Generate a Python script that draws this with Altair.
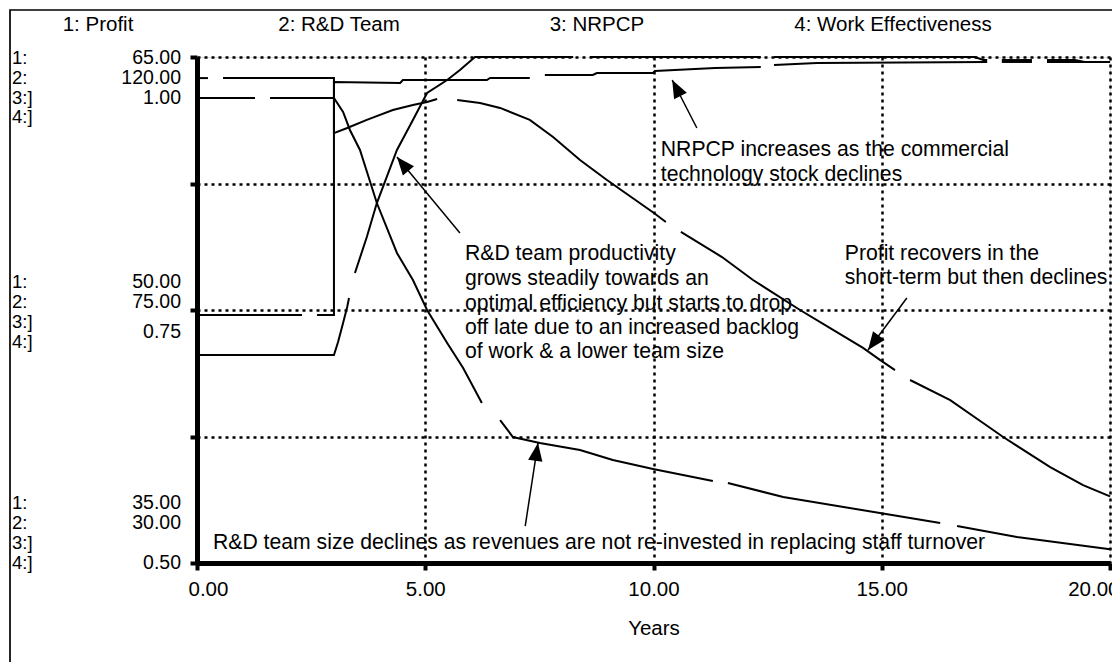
import math
import altair as alt
import pandas as pd

# ---------------- data ----------------
series_names = ["1: Profit", "2: R&D Team", "3: NRPCP", "4: Work Effectiveness"]
years_ticks = [0, 5, 10, 15, 20]

# None marks a break in the drawn line (where the simulator left a gap)
profit_t = [0, 0.24, None, 0.57, 3.0, 3.0, 3.29, 3.72, 4.29, 4.73, 5.04, 5.26, None, 5.70, 6.20, 6.64, 7.29,
            7.80, 8.39, 8.98, 10.01, 10.27, None, 10.60, 11.50, 12.18, 13.21, 13.87, 14.59, 14.96, 15.29,
            None, 15.62, 16.50, 17.22, 17.66, 18.69, 19.41, 20.0]
profit_v = [63.75, 63.75, None, 63.75, 63.75, 60.49, 60.79, 61.27, 61.86, 62.15, 62.33, 62.51, None, 62.45,
            62.27, 61.98, 61.27, 60.26, 58.89, 57.71, 55.75, 55.22, None, 54.63, 53.14, 51.78, 50.0, 48.93,
            47.75, 47.04, 46.44, None, 45.85, 44.66, 43.30, 42.47, 40.69, 39.62, 38.95]

team_t = [0, 1.27, None, 1.60, 3.0, 3.20, 3.35, 3.57, 3.94, 4.38, 4.73, 5.04, 5.48, 5.83, 6.24, None, 6.64,
          6.92, 7.51, 8.39, 9.11, 9.99, 11.30, None, 11.63, 12.84, 14.96, 16.28, None, 16.65, 17.96, 20.0]
team_v = [112.71, 112.71, None, 112.71, 112.71, 110.22, 107.02, 103.46, 94.03, 85.14, 80.34, 75.0, 69.13,
          64.68, 58.46, None, 55.43, 52.41, 51.34, 50.10, 48.32, 46.72, 44.58, None, 44.23, 41.74, 38.89,
          37.11, None, 36.58, 34.62, 32.45]

nrpcp_t = [0, 2.30, None, 2.63, 3.0, 3.0, 4.45, 4.51, 6.35, 6.42, 7.29, None, 7.62, 8.67, 8.76, 9.99, 10.03,
           11.35, 12.35, None, 12.64, 13.58, 17.31, None, 17.63, 18.29, None, 18.62, 20.0]
nrpcp_v = [0.7451, 0.7451, None, 0.7451, 0.7451, 0.9753, 0.9743, 0.9773, 0.9773, 0.9793, 0.9793, None,
           0.9822, 0.9822, 0.9842, 0.9842, 0.9862, 0.9891, 0.9901, None, 0.9921, 0.9941, 0.9951, None,
           0.9951, 0.9951, None, 0.9951, 0.9951]

work_t = [0, 3.0, 3.09, 3.20, 3.29, 3.33, None, 3.46, 3.72, 3.94, 4.38, 4.73, 5.04, 5.48, 5.76, 6.09, 8.24,
          None, 8.61, 12.35, None, 12.64, 17.04, 17.22, 17.31, None, 17.63, 18.29, None, 18.62, 19.23,
          19.45, 20.0]
work_v = [0.7055, 0.7055, 0.7184, 0.7372, 0.7530, 0.7619, None, 0.7866, 0.8221, 0.8557, 0.9081, 0.9377,
          0.9644, 0.9773, 0.9872, 1.0, 1.0, None, 1.0, 1.0, None, 1.0, 1.0, 0.997, 0.997, None, 0.997,
          0.997, None, 0.997, 0.997, 0.9951, 0.9951]

profit_domain = [35, 65]
team_domain = [30, 120]
ratio_domain = [0.5, 1.0]

scale_top = ["65.00", "120.00", "1.00"]
scale_mid = ["50.00", "75.00", "0.75"]
scale_bot = ["35.00", "30.00", "0.50"]
series_tags = ["1:", "2:", "3:]", "4:]"]

# annotations: year, fraction of the plot height, text
note_t = [10.16, 10.16, 5.87, 5.87, 5.87, 5.87, 5.87, 14.19, 14.19, 0.35]
note_f = [0.8162, 0.7668, 0.6107, 0.5613, 0.5119, 0.4644, 0.4170, 0.6107, 0.5632, 0.0395]
note_txt = ["NRPCP increases as the commercial", "technology stock declines",
            "R&D team productivity", "grows steadily towards an", "optimal efficiency but starts to drop",
            "off late due to an increased backlog", "of work & a lower team size",
            "Profit recovers in the", "short-term but then declines",
            "R&D team size declines as revenues are not re-invested in replacing staff turnover"]

# arrows: tail -> tip (year, fraction)
arrow_t0 = [10.95, 5.76, 15.55, 7.19]
arrow_f0 = [0.8597, 0.6522, 0.5237, 0.0731]
arrow_t1 = [10.41, 4.38, 14.70, 7.47]
arrow_f1 = [0.9545, 0.8024, 0.4209, 0.2372]

# ---------------- layout constants ----------------
W, H = 913, 506
LEFT, TOP = 197, 57
FONT = "Liberation Sans"
FS = 20.5
FS_SIDE = 18.5
FS_NOTE = 21.2
header_x = [98, 339, 597, 893]
tag_x = 12
value_x = 181
top_rows = [58, 78, 98, 117]
mid_rows = [282, 302, 322, 342]
bot_rows = [503, 523, 543, 563]
top_val_rows = [58, 78, 98]
mid_val_rows = [282, 302, 332]
bot_val_rows = [503, 523, 563]


def seg_frame(ts, vs):
    rows, seg, k = [], 0, 0
    for t, v in zip(ts, vs):
        if v is None:
            seg += 1
            continue
        rows.append({"t": t, "v": v, "seg": seg, "k": k})
        k += 1
    return pd.DataFrame(rows)


X_SCALE = alt.Scale(domain=[0, 20], nice=False, zero=False)
X_AXIS = alt.Axis(values=years_ticks, format=".2f", title="Years", grid=True, gridDash=[3, 4],
                  gridWidth=2.5, gridColor="black", gridOpacity=1, domainColor="black", domainWidth=5,
                  tickColor="black", tickWidth=4, tickSize=7, labelFont=FONT, labelFontSize=FS,
                  labelColor="black", labelPadding=9, labelFlush=True, labelFlushOffset=9,
                  labelOverlap=False,
                  titleFont=FONT, titleFontSize=FS, titleFontWeight="normal", titleColor="black",
                  titlePadding=19)


def x_enc(field):
    return alt.X(field, type="quantitative", scale=X_SCALE, axis=X_AXIS)


def line_layer(ts, vs, domain):
    return alt.Chart(seg_frame(ts, vs)).mark_line(color="black", strokeWidth=2).encode(
        x=x_enc("t"),
        y=alt.Y("v:Q", scale=alt.Scale(domain=domain, nice=False, zero=False), axis=None),
        detail="seg:N",
        order="k:Q",
    )


FRAC = alt.Scale(domain=[0, 1], nice=False, zero=False)

notes_df = pd.DataFrame({"t": note_t, "f": note_f, "txt": note_txt})
notes = alt.Chart(notes_df).mark_text(align="left", baseline="middle", font=FONT, fontSize=FS_NOTE,
                                      color="black").encode(
    x=x_enc("t"),
    y=alt.Y("f:Q", scale=FRAC,
            axis=alt.Axis(values=[0, 0.25, 0.5, 0.75, 1], labels=False, title=None, grid=True,
                          gridDash=[3, 4], gridWidth=2.5, gridColor="black", gridOpacity=1,
                          domainColor="black", domainWidth=5, tickColor="black", tickWidth=4,
                          tickSize=7)),
    text="txt:N",
)

pxt = W / 20.0
ang = []
for a0, b0, a1, b1 in zip(arrow_t0, arrow_f0, arrow_t1, arrow_f1):
    dx = (a1 - a0) * pxt
    dy = -(b1 - b0) * H
    ang.append(math.degrees(math.atan2(dx, -dy)) % 360)
arrows_df = pd.DataFrame({"t": arrow_t0, "f": arrow_f0, "t2": arrow_t1, "f2": arrow_f1, "ang": ang})

shafts = alt.Chart(arrows_df).mark_rule(color="black", strokeWidth=1.5).encode(
    x=x_enc("t"), y=alt.Y("f:Q", scale=FRAC, axis=None), x2="t2:Q", y2="f2:Q")

heads = alt.Chart(arrows_df).mark_point(shape="M0,0L-0.4,1L0.4,1Z", filled=True, size=1296, color="black",
                                        opacity=1, strokeWidth=0).encode(
    x=x_enc("t2"),
    y=alt.Y("f2:Q", scale=FRAC, axis=None),
    angle=alt.Angle("ang:Q", scale=None),
)

layers = [
    line_layer(profit_t, profit_v, profit_domain),
    line_layer(team_t, team_v, team_domain),
    line_layer(nrpcp_t, nrpcp_v, ratio_domain),
    line_layer(work_t, work_v, ratio_domain),
    notes, shafts, heads,
]

one = pd.DataFrame({"a": [0]})


def label(txt, px, py, align, size):
    return alt.Chart(one).mark_text(align=align, baseline="middle", font=FONT, fontSize=size,
                                    color="black").encode(
        x=alt.value(px - LEFT), y=alt.value(py - TOP), text=alt.value(txt))


for name, hx in zip(series_names, header_x):
    layers.append(label(name, hx, 25, "center", FS))
for rows, vrows, vals in [(top_rows, top_val_rows, scale_top), (mid_rows, mid_val_rows, scale_mid),
                          (bot_rows, bot_val_rows, scale_bot)]:
    for tag, ry in zip(series_tags, rows):
        layers.append(label(tag, tag_x, ry, "left", FS_SIDE))
    for v, ry in zip(vals, vrows):
        layers.append(label(v, value_x, ry, "right", FS_SIDE + 1))

frame = alt.Chart(one).mark_rect(fillOpacity=0, stroke="black", strokeWidth=1.7).encode(
    x=alt.value(10 - LEFT), x2=alt.value(1130 - LEFT), y=alt.value(10 - TOP), y2=alt.value(680 - TOP))
layers.insert(0, frame)

chart = alt.layer(*layers).resolve_scale(y="independent").properties(
    width=W, height=H,
    autosize=alt.AutoSizeParams(type="none"),
    padding={"left": LEFT, "top": TOP, "right": 2, "bottom": 99},
).configure_view(stroke=None).configure(background="white")

chart.save("out.html", embed_options={"renderer": "svg", "actions": False})
